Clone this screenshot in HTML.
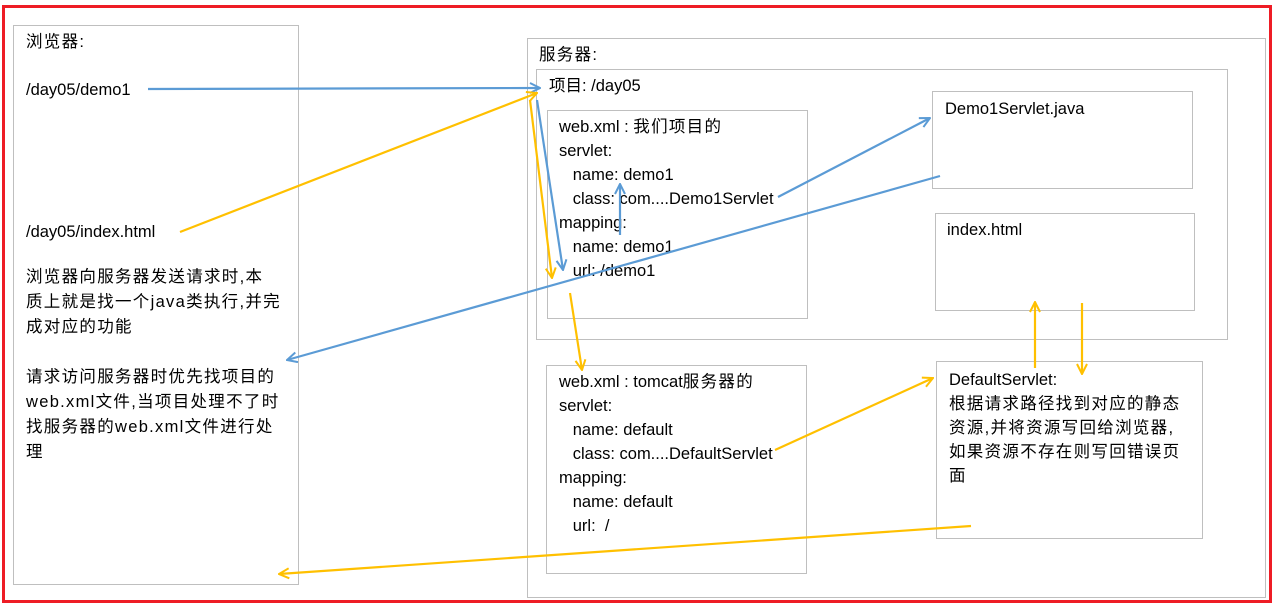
<!DOCTYPE html>
<html><head><meta charset="utf-8"><style>
body{margin:0;width:1279px;height:605px;background:#fff;position:relative;overflow:hidden;font-family:"Liberation Sans","Noto Sans CJK SC",sans-serif;font-size:16.5px;color:#000}
.b{position:absolute;border:1px solid #bfbfbf;box-sizing:border-box}
.t{position:absolute;white-space:nowrap;line-height:24px}
.c{letter-spacing:1.3px}
svg{position:absolute;left:0;top:0}
</style></head><body>
<div style="position:absolute;left:2px;top:5px;width:1270px;height:598px;border:3px solid #ee1c25;box-sizing:border-box"></div>
<div class="b" style="left:13px;top:25px;width:286px;height:560px"></div>
<div class="b" style="left:527px;top:38px;width:739px;height:560px"></div>
<div class="b" style="left:536px;top:69px;width:692px;height:271px"></div>
<div class="b" style="left:547px;top:110px;width:261px;height:209px"></div>
<div class="b" style="left:932px;top:91px;width:261px;height:98px"></div>
<div class="b" style="left:935px;top:213px;width:260px;height:98px"></div>
<div class="b" style="left:546px;top:365px;width:261px;height:209px"></div>
<div class="b" style="left:936px;top:361px;width:267px;height:178px"></div>

<div class="t c" style="left:26px;top:30px">浏览器:</div>
<div class="t" style="left:26px;top:78px">/day05/demo1</div>
<div class="t" style="left:26px;top:220px">/day05/index.html</div>
<div class="t c" style="left:26px;top:265px;line-height:25px">浏览器向服务器发送请求时,本<br>质上就是找一个java类执行,并完<br>成对应的功能<br><br>请求访问服务器时优先找项目的<br>web.xml文件,当项目处理不了时<br>找服务器的web.xml文件进行处<br>理</div>
<div class="t c" style="left:539px;top:43px">服务器:</div>
<div class="t" style="left:549px;top:74px">项目: /day05</div>
<div class="t" style="left:559px;top:115px">web.xml : <span class="c">我们项目的</span><br>servlet:<br>&nbsp;&nbsp;&nbsp;name: demo1<br>&nbsp;&nbsp;&nbsp;class: com....Demo1Servlet<br>mapping:<br>&nbsp;&nbsp;&nbsp;name: demo1<br>&nbsp;&nbsp;&nbsp;url: /demo1</div>
<div class="t" style="left:945px;top:97px">Demo1Servlet.java</div>
<div class="t" style="left:947px;top:218px">index.html</div>
<div class="t" style="left:559px;top:370px">web.xml : tomcat<span class="c">服务器的</span><br>servlet:<br>&nbsp;&nbsp;&nbsp;name: default<br>&nbsp;&nbsp;&nbsp;class: com....DefaultServlet<br>mapping:<br>&nbsp;&nbsp;&nbsp;name: default<br>&nbsp;&nbsp;&nbsp;url:&nbsp; /</div>
<div class="t" style="left:949px;top:368px;line-height:24px">DefaultServlet:<br><span class="c">根据请求路径找到对应的静态<br>资源,并将资源写回给浏览器,<br>如果资源不存在则写回错误页<br>面</span></div>

<svg width="1279" height="605">
<defs>
<marker id="mb" viewBox="0 0 12 12" refX="11" refY="6" markerWidth="12" markerHeight="12" markerUnits="userSpaceOnUse" orient="auto"><path d="M1,1 L11,6 L1,11" fill="none" stroke="#5b9bd5" stroke-width="2"/></marker>
<marker id="mo" viewBox="0 0 12 12" refX="11" refY="6" markerWidth="12" markerHeight="12" markerUnits="userSpaceOnUse" orient="auto"><path d="M1,1 L11,6 L1,11" fill="none" stroke="#ffc000" stroke-width="2"/></marker>
</defs>
<g fill="none" stroke-width="2.2">
<g stroke="#5b9bd5">
<line x1="148" y1="89" x2="540" y2="88" marker-end="url(#mb)"/>
<line x1="537" y1="100" x2="563" y2="270" marker-end="url(#mb)"/>
<line x1="620" y1="235" x2="620" y2="184" marker-end="url(#mb)"/>
<line x1="778" y1="197" x2="930" y2="118" marker-end="url(#mb)"/>
<line x1="940" y1="176" x2="287" y2="360" marker-end="url(#mb)"/>
</g>
<g stroke="#ffc000">
<line x1="180" y1="232" x2="537" y2="93" marker-end="url(#mo)"/>
<line x1="530" y1="100" x2="552" y2="278" marker-end="url(#mo)"/>
<line x1="570" y1="293" x2="582" y2="370" marker-end="url(#mo)"/>
<line x1="775" y1="450" x2="933" y2="378" marker-end="url(#mo)"/>
<line x1="1035" y1="368" x2="1035" y2="302" marker-end="url(#mo)"/>
<line x1="1082" y1="303" x2="1082" y2="374" marker-end="url(#mo)"/>
<line x1="971" y1="526" x2="279" y2="574" marker-end="url(#mo)"/>
</g>
</g>
</svg>
</body></html>
